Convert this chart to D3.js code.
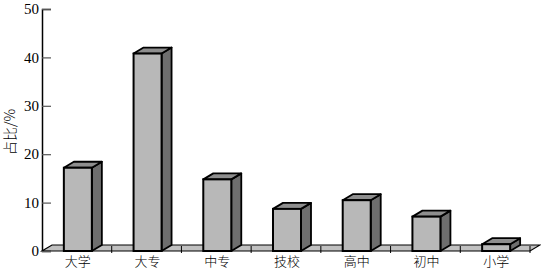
<!DOCTYPE html>
<html>
<head>
<meta charset="utf-8">
<script src="https://cdn.jsdelivr.net/npm/d3@7"></script>
<style>
  body { margin: 0; background: #fff; }
  svg { display: block; }
</style>
</head>
<body>
<div id="chart"></div>
<script>
// data
var categories = ["大学", "大专", "中专", "技校", "高中", "初中", "小学"];
var shares = [17.2, 40.8, 14.8, 8.7, 10.5, 7.1, 1.4];
var yTicks = [0, 10, 20, 30, 40, 50];

var width = 541, height = 270;
var plotLeft = 42, plotRight = 530, plotBottom = 251, plotTop = 9;
var dx = 10, dy = 6; // 3d depth

var svg = d3.select("#chart").append("svg")
    .attr("width", width)
    .attr("height", height);

var x = d3.scaleBand().domain(categories).range([plotLeft, plotRight]);
var y = d3.scaleLinear().domain([0, 50]).range([plotBottom, plotTop]);
var barW = 28;

// floor
svg.append("polygon")
    .attr("points", [[plotLeft, plotBottom], [plotRight, plotBottom], [plotRight + dx, plotBottom - dy], [plotLeft + dx, plotBottom - dy]].join(" "))
    .style("fill", "#c0c0c0")
    .style("stroke", "#000")
    .style("stroke-width", 1.2);

// floor ticks at category boundaries
svg.selectAll(".ftick")
    .data(categories.map(function(d) { return x(d) + x.bandwidth(); }))
    .enter().append("line")
    .attr("x1", function(d) { return d; })
    .attr("x2", function(d) { return d; })
    .attr("y1", plotBottom - dy + 1)
    .attr("y2", plotBottom + 2)
    .style("stroke", "#000")
    .style("stroke-width", 1);

// bars
var bars = svg.selectAll(".bar")
    .data(categories.map(function(c, i) { return {cat: c, v: shares[i]}; }))
    .enter().append("g");

function bx(d) { return x(d.cat) + x.bandwidth() / 2 - barW / 2 + 1; }

bars.append("polygon") // side
    .attr("points", function(d) {
      var x0 = bx(d) + barW, yt = y(d.v);
      return [[x0, yt], [x0 + dx, yt - dy], [x0 + dx, plotBottom - dy], [x0, plotBottom]].join(" ");
    })
    .style("fill", "#6e6e6e")
    .style("stroke", "#000")
    .style("stroke-width", 1.8)
    .style("stroke-linejoin", "round");

bars.append("polygon") // top
    .attr("points", function(d) {
      var x0 = bx(d), yt = y(d.v);
      return [[x0, yt], [x0 + dx, yt - dy], [x0 + barW + dx, yt - dy], [x0 + barW, yt]].join(" ");
    })
    .style("fill", "#8e8e8e")
    .style("stroke", "#000")
    .style("stroke-width", 1.8)
    .style("stroke-linejoin", "round");

bars.append("rect") // front
    .attr("x", bx)
    .attr("y", function(d) { return y(d.v); })
    .attr("width", barW)
    .attr("height", function(d) { return plotBottom - y(d.v); })
    .style("fill", "#b8b8b8")
    .style("stroke", "#000")
    .style("stroke-width", 2);

// y axis
var yAxis = d3.axisRight(y).tickValues(yTicks).tickSize(9).tickFormat("");
var gy = svg.append("g")
    .attr("transform", "translate(" + plotLeft + ",0)")
    .call(yAxis);
gy.select(".domain").style("stroke", "#000").style("stroke-width", 1.5);
gy.selectAll(".tick line").style("stroke", "#555").style("stroke-width", 1.2);

svg.selectAll(".ylab")
    .data(yTicks)
    .enter().append("text")
    .attr("x", plotLeft - 3)
    .attr("y", function(d) { return y(d); })
    .attr("dy", "0.35em")
    .style("text-anchor", "end")
    .style("font-family", "Liberation Serif, serif")
    .style("font-size", "15px")
    .text(function(d) { return d; });

// x labels
svg.selectAll(".xlab")
    .data(categories)
    .enter().append("text")
    .attr("x", function(d) { return x(d) + x.bandwidth() / 2 + 1; })
    .attr("y", 266)
    .style("text-anchor", "middle")
    .style("font-family", "Noto Sans CJK SC, sans-serif")
    .style("font-size", "13px")
    .style("font-weight", 300)
    .text(function(d) { return d; });

// y title
svg.append("text")
    .attr("transform", "translate(15,132) rotate(-90)")
    .style("text-anchor", "middle")
    .style("font-family", "Noto Sans CJK SC, sans-serif")
    .style("font-size", "14px")
    .style("font-weight", 300)
    .text("占比/%");
</script>
</body>
</html>
